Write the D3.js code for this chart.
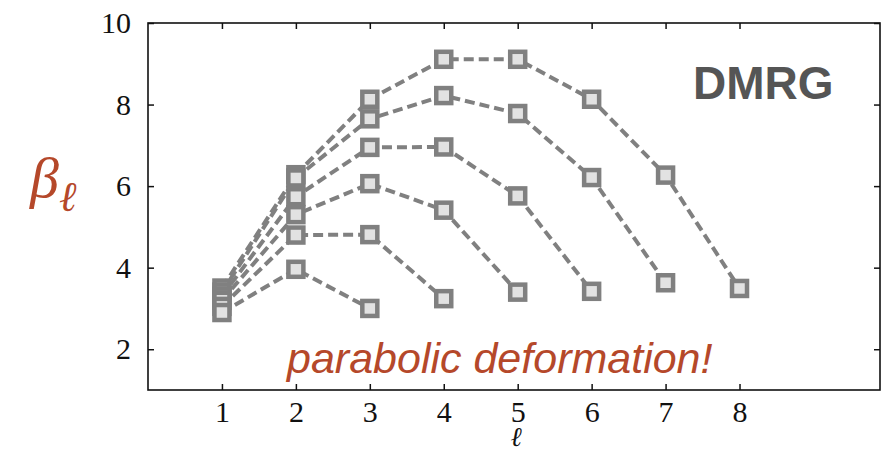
<!DOCTYPE html>
<html>
<head>
<meta charset="utf-8">
<script src="https://cdn.jsdelivr.net/npm/d3@7"></script>
<style>
  body { margin: 0; background: #fff; }
  svg { display: block; }
</style>
</head>
<body>
<svg id="chart" width="883" height="451"></svg>
<script>
// system sizes L = 3..8, beta_l for l = 1..L-1
var sizes = [8, 7, 6, 5, 4, 3];
var beta8 = [3.5, 6.28, 8.13, 9.11, 9.11, 8.13, 6.27, 3.49];
var beta7 = [3.4, 6.2, 7.65, 8.22, 7.78, 6.21, 3.63];
var beta6 = [3.3, 5.74, 6.95, 6.96, 5.76, 3.42];
var beta5 = [3.2, 5.3, 6.06, 5.41, 3.4];
var beta4 = [3.05, 4.8, 4.81, 3.24];
var beta3 = [2.9, 3.96, 3.0];
var seriesList = [beta8, beta7, beta6, beta5, beta4, beta3];
var xTicks = [1, 2, 3, 4, 5, 6, 7, 8];
var yTicks = [2, 4, 6, 8, 10];

var accent = '#b5482a';
var svg = d3.select('#chart');
var plotL = 148, plotR = 880, plotT = 23, plotB = 390;

var x = d3.scaleLinear().domain([0, 9.9]).range([plotL, plotR]);
var y = d3.scaleLinear().domain([1, 10]).range([plotB, plotT]);

var tickFont = function(sel) {
    sel.attr('font-size', null).attr('font-family', null);
    sel.selectAll('text')
        .attr('font-family', '"Liberation Serif", "DejaVu Serif", serif')
        .attr('font-size', 30)
        .attr('fill', '#111');
    sel.select('.domain').remove();
    sel.selectAll('line').attr('stroke', '#111').attr('stroke-width', 1.5);
};

// axes, ticks pointing inward on all four sides
svg.append('g').attr('transform', 'translate(0,' + plotB + ')')
    .call(d3.axisBottom(x).tickValues(xTicks).tickFormat(d3.format('d')).tickSizeInner(-6).tickPadding(11))
    .call(tickFont);
svg.append('g').attr('transform', 'translate(0,' + plotT + ')')
    .call(d3.axisTop(x).tickValues(xTicks).tickFormat('').tickSizeInner(-6))
    .call(tickFont);
svg.append('g').attr('transform', 'translate(' + plotL + ',0)')
    .call(d3.axisLeft(y).tickValues(yTicks).tickFormat(d3.format('d')).tickSizeInner(-6).tickPadding(17))
    .call(tickFont);
svg.append('g').attr('transform', 'translate(' + plotR + ',0)')
    .call(d3.axisRight(y).tickValues(yTicks).tickFormat('').tickSizeInner(-6))
    .call(tickFont);
svg.selectAll('.tick text').filter(function() { return this.textContent === ''; }).remove();

svg.append('rect')
    .attr('x', plotL).attr('y', plotT)
    .attr('width', plotR - plotL).attr('height', plotB - plotT)
    .attr('fill', 'none').attr('stroke', '#111').attr('stroke-width', 1.6);

// series: lines and square markers
var line = d3.line()
    .x(function(d, i) { return x(i + 1); })
    .y(function(d) { return y(d); });

var groups = svg.selectAll('.series')
    .data(seriesList)
    .enter().append('g')
    .attr('class', 'series');

groups.append('path')
    .attr('d', function(d) { return line(d); })
    .attr('fill', 'none')
    .attr('stroke', '#808080')
    .attr('stroke-width', 4)
    .attr('stroke-dasharray', '10,5');

var sq = 15;
groups.selectAll('.pt')
    .data(function(d) { return d; })
    .enter().append('rect')
    .attr('class', 'pt')
    .attr('x', function(d, i) { return x(i + 1) - sq / 2; })
    .attr('y', function(d) { return y(d) - sq / 2; })
    .attr('width', sq).attr('height', sq)
    .attr('fill', '#e2e2e2')
    .attr('stroke', '#808080')
    .attr('stroke-width', 4.5);

// labels
svg.append('text')
    .attr('x', 693).attr('y', 99)
    .attr('font-family', '"Liberation Sans", Arial, sans-serif')
    .attr('font-weight', 'bold')
    .attr('font-size', 46)
    .attr('fill', '#555')
    .text('DMRG');

svg.append('text')
    .attr('x', 287).attr('y', 373)
    .attr('font-family', '"Liberation Sans", Arial, sans-serif')
    .attr('font-style', 'italic')
    .attr('font-size', 43)
    .attr('fill', accent)
    .text('parabolic deformation!');

svg.append('text')
    .attr('x', 516).attr('y', 446)
    .attr('text-anchor', 'middle')
    .attr('font-family', '"Liberation Serif", "DejaVu Serif", serif')
    .attr('font-style', 'italic')
    .attr('font-size', 27)
    .attr('fill', '#111')
    .text('ℓ');

var yl = svg.append('text')
    .attr('x', 30).attr('y', 197)
    .attr('font-family', '"Liberation Serif", "DejaVu Serif", serif')
    .attr('font-style', 'italic')
    .attr('fill', accent);
yl.append('tspan').attr('font-size', 58).text('β');
yl.append('tspan').attr('font-size', 42).attr('dy', 14).text('ℓ');
</script>
</body>
</html>
